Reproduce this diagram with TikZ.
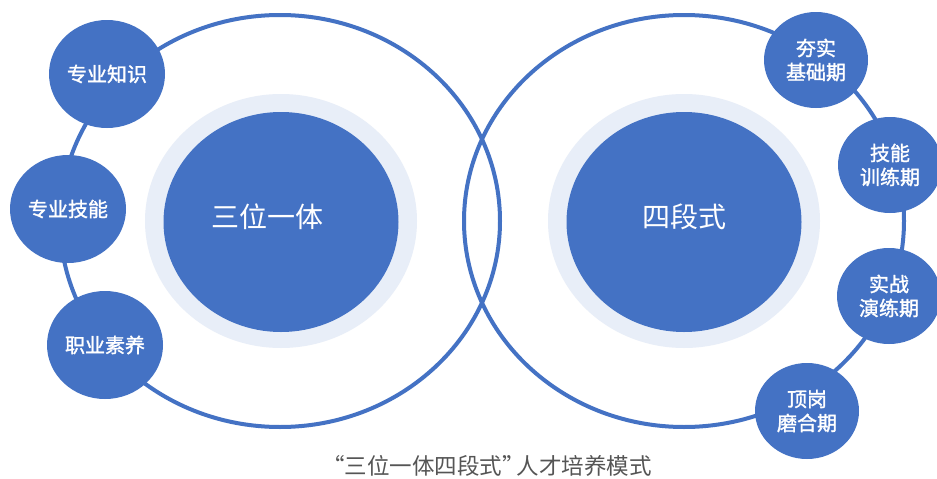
\documentclass[tikz,border=0pt]{standalone}
\usepackage{fontspec}
\setmainfont{Noto Sans CJK SC}
\newfontfamily\boldish{Noto Sans CJK SC}[FakeBold=1.5]
\usetikzlibrary{shapes.geometric}
\definecolor{mainblue}{HTML}{4472C4}
\definecolor{haloblue}{HTML}{E8EEF8}
\definecolor{captiongray}{HTML}{555555}
\tikzset{
  bigring/.style={draw=mainblue, line width=4pt, ellipse, minimum width=440pt, minimum height=412pt, inner sep=0pt},
  halo/.style={fill=haloblue, ellipse, minimum width=272pt, minimum height=254pt, inner sep=0pt},
  core/.style={fill=mainblue, ellipse, minimum width=235pt, minimum height=220pt, inner sep=0pt, text=white, font=\fontsize{28}{32}\selectfont},
  leaf/.style={fill=mainblue, ellipse, minimum width=116pt, minimum height=108pt, inner sep=0pt, text=white, font=\boldish\fontsize{20}{24}\selectfont, align=center},
  stage/.style={fill=mainblue, ellipse, minimum width=104pt, minimum height=96pt, inner sep=0pt, text=white, font=\boldish\fontsize{20}{24}\selectfont, align=center},
  caption/.style={text=captiongray, font=\fontsize{22.5}{26}\selectfont}
}
\begin{document}
\begin{tikzpicture}[x=1pt,y=-1pt]
\useasboundingbox (0,0) rectangle (937,479);
\fill[white] (0,0) rectangle (937,479);
% big rings
\node[bigring] (ringL) at (280,221) {};
\node[bigring] (ringR) at (684,221) {};
% halos and cores
\node[halo] (haloL) at (281,221) {};
\node[halo] (haloR) at (684,221) {};
\node[core] (coreL) at (281,222) {};
\node[core] (coreR) at (684,222) {};
\node[text=white, font=\fontsize{28}{32}\selectfont] (tL) at (267,217) {三位一体};
\node[text=white, font=\fontsize{28}{32}\selectfont] (tR) at (684,217) {四段式};
% left leaves
\node[leaf] (zs) at (107,74) {专业知识};
\node[leaf] (jn) at (68,209) {专业技能};
\node[leaf] (sy) at (105,345) {职业素养};
% right stages
\node[stage] (s1) at (816,60) {夯实\\基础期};
\node[stage] (s2) at (890,165) {技能\\训练期};
\node[stage] (s3) at (889,296) {实战\\演练期};
\node[stage] (s4) at (807,411) {顶岗\\磨合期};
% caption
\node[caption] (cap) at (487,466) {“三位一体四段式"\kern-8pt 人才培养模式};
\end{tikzpicture}
\end{document}
